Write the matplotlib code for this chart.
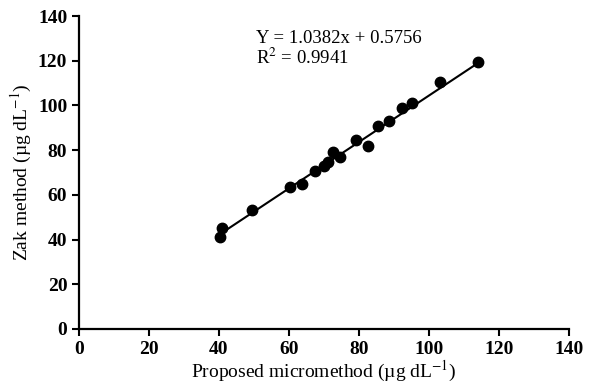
import numpy as np
import matplotlib
matplotlib.use('Agg')
import matplotlib.pyplot as plt

plt.rcParams['font.family'] = ['Liberation Serif', 'DejaVu Serif']
plt.rcParams['mathtext.fontset'] = 'stix'

# readings
proposed = [40.3, 40.8, 49.3, 60.3, 63.6, 67.4, 70.0, 71.2, 72.7, 74.6,
            79.3, 82.5, 85.5, 88.7, 92.2, 95.3, 103.3, 114.1]
zak = [41.3, 45.0, 53.2, 63.6, 64.8, 70.7, 72.9, 74.8, 79.0, 77.1,
       84.5, 81.8, 90.8, 93.0, 98.7, 101.2, 110.3, 119.3]
slope = 1.0382
intercept = 0.5756
r2 = 0.9941
ticks = [0, 20, 40, 60, 80, 100, 120, 140]

fig = plt.figure(figsize=(5.9, 3.92), dpi=100)
ax = fig.add_axes([0.134, 0.161, 0.830, 0.798])

xs = np.array([min(proposed), max(proposed)])
ax.plot(xs, slope * xs + intercept, color='black', lw=1.5, zorder=2)
ax.plot(proposed, zak, 'o', color='black', ms=7.5, zorder=3)

ax.set_xlim(0, 140)
ax.set_ylim(0, 140)
ax.set_xticks(ticks)
ax.set_yticks(ticks)
ax.tick_params(direction='out', length=5, width=1.5, labelsize=14)
for lab in ax.get_xticklabels() + ax.get_yticklabels():
    lab.set_fontweight('bold')
for s in ['top', 'right']:
    ax.spines[s].set_visible(False)
for s in ['left', 'bottom']:
    ax.spines[s].set_linewidth(1.6)

ax.set_xlabel('Proposed micromethod (\u00b5g dL$^{\u22121}$)', fontsize=14, labelpad=1)
ax.set_ylabel('Zak method (\u00b5g dL$^{\u22121}$)', fontsize=14, labelpad=3)

ax.text(50.5, 130, 'Y = %.4fx + %.4f' % (slope, intercept), fontsize=13.5,
        va='center', ha='left')
ax.text(50.5, 121.5, 'R$^{2}$ = %.4f' % r2, fontsize=13.5,
        va='center', ha='left')

fig.savefig('out.png', dpi=100)
